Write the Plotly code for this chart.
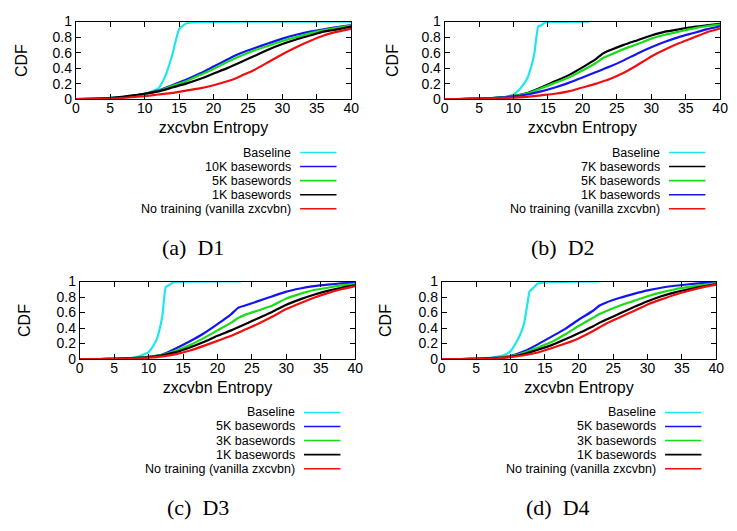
import plotly.graph_objects as go

W, H = 737, 531

# ---------------- data ----------------
X_GRID = [0, 2, 4, 6, 8, 10, 12, 14, 16, 18, 20, 22, 23, 24, 26, 28, 30, 32, 34, 36, 38, 40]

# (a) D1
A_BASE_X = [0, 4, 8, 10, 11, 12, 13, 14, 14.5, 15, 16, 17, 40]
A_BASE_Y = [0, 0.01, 0.04, 0.07, 0.1, 0.14, 0.3, 0.57, 0.75, 0.9, 0.975, 0.99, 1.0]
A_10K = [0, .003, .01, .02, .04, .07, .11, .18, .25, .33, .42, .51, .555, .595, .66, .72, .78, .83, .87, .90, .93, .955]
A_5K = [0, .003, .01, .02, .04, .07, .105, .17, .23, .31, .39, .48, .52, .56, .63, .69, .75, .80, .85, .89, .92, .95]
A_1K = [0, .003, .01, .025, .045, .07, .10, .15, .20, .26, .33, .40, .44, .48, .56, .64, .71, .77, .82, .87, .90, .935]
A_NONE = [0, .002, .006, .012, .025, .04, .06, .08, .11, .14, .18, .23, .26, .30, .38, .48, .58, .67, .75, .82, .87, .91]

# (b) D2
B_BASE_X = [0, 4, 8, 10, 11, 12, 12.5, 13, 13.6, 14, 14.5, 15, 21]
B_BASE_Y = [0, 0.005, 0.02, 0.06, 0.14, 0.27, 0.4, 0.58, 0.94, 0.95, 0.985, 0.995, 1.0]
B_7K = [0, .002, .006, .012, .02, .04, .08, .15, .23, .31, .41, .52, .59, .63, .70, .76, .82, .87, .90, .93, .95, .97]
B_5K = [0, .002, .006, .012, .02, .04, .075, .14, .21, .28, .37, .47, .53, .57, .645, .71, .78, .83, .87, .91, .94, .96]
B_1K = [0, .002, .005, .01, .02, .035, .06, .10, .15, .21, .28, .35, .385, .42, .50, .59, .67, .74, .80, .85, .90, .94]
B_NONE = [0, .001, .003, .007, .012, .02, .03, .05, .07, .10, .15, .20, .23, .26, .34, .44, .55, .64, .72, .79, .86, .91]

# (c) D3
C_BASE_X = [0, 6, 8, 9, 10, 11, 11.5, 12, 12.5, 13, 13.5, 14, 23.5]
C_BASE_Y = [0, 0.005, 0.02, 0.05, 0.09, 0.22, 0.35, 0.56, 0.93, 0.955, 0.985, 0.995, 1.0]
C_5K = [0, 0, .002, .006, .015, .03, .06, .14, .23, .33, .45, .58, .66, .69, .75, .81, .87, .91, .94, .96, .975, .985]
C_3K = [0, 0, .002, .006, .015, .03, .055, .11, .18, .27, .37, .47, .53, .57, .63, .69, .78, .84, .89, .92, .95, .97]
C_1K = [0, 0, .002, .005, .012, .025, .05, .09, .15, .22, .30, .37, .41, .45, .53, .61, .70, .77, .83, .88, .92, .95]
C_NONE = [0, 0, .001, .003, .008, .018, .035, .065, .11, .17, .235, .30, .34, .38, .46, .55, .645, .72, .79, .85, .90, .94]

# (d) D4
D_BASE_X = [0, 6, 8, 9, 10, 11, 11.5, 12, 12.5, 12.8, 13.5, 14, 23]
D_BASE_Y = [0, 0.005, 0.03, 0.05, 0.1, 0.24, 0.33, 0.46, 0.72, 0.87, 0.93, 0.975, 1.0]
D_5K = [0, 0, .002, .006, .018, .04, .10, .19, .29, .39, .51, .62, .69, .73, .79, .84, .885, .92, .945, .965, .978, .988]
D_3K = [0, 0, .002, .006, .016, .035, .08, .15, .22, .32, .43, .53, .58, .62, .69, .75, .81, .86, .90, .93, .955, .975]
D_1K = [0, 0, .002, .005, .013, .03, .065, .12, .18, .255, .335, .42, .47, .51, .59, .67, .745, .81, .86, .90, .935, .965]
D_NONE = [0, 0, .001, .004, .01, .025, .05, .085, .14, .20, .27, .36, .41, .46, .54, .62, .705, .77, .83, .88, .925, .96]

X_TICKS = [0, 5, 10, 15, 20, 25, 30, 35, 40]
Y_TICKS = [0, 0.2, 0.4, 0.6, 0.8, 1]
NONE_LABEL = "No training (vanilla zxcvbn)"
CAPTIONS = ["(a)\u2002D1", "(b)\u2002D2", "(c)\u2002D3", "(d)\u2002D4"]

# ---------------- styles ----------------
CYAN, BLUE, GREEN, BLACK, RED = "#1ee6ee", "#1414f0", "#19dc19", "#000000", "#ee1010"
FONT = "Liberation Sans, Arial, sans-serif"
LEG_STEP = 14.5

panels = [
    dict(series=[("Baseline", A_BASE_X, A_BASE_Y, CYAN),
                 ("10K basewords", X_GRID, A_10K, BLUE),
                 ("5K basewords", X_GRID, A_5K, GREEN),
                 ("1K basewords", X_GRID, A_1K, BLACK),
                 (NONE_LABEL, X_GRID, A_NONE, RED)],
         box=(73, 353, 14, 94), leg=(293, 149), cap=(192, 247), ytitle_x=18),
    dict(series=[("Baseline", B_BASE_X, B_BASE_Y, CYAN),
                 ("7K basewords", X_GRID, B_7K, BLACK),
                 ("5K basewords", X_GRID, B_5K, GREEN),
                 ("1K basewords", X_GRID, B_1K, BLUE),
                 (NONE_LABEL, X_GRID, B_NONE, RED)],
         box=(448, 728, 14, 94), leg=(668, 149), cap=(568, 247), ytitle_x=395),
    dict(series=[("Baseline", C_BASE_X, C_BASE_Y, CYAN),
                 ("5K basewords", X_GRID, C_5K, BLUE),
                 ("3K basewords", X_GRID, C_3K, GREEN),
                 ("1K basewords", X_GRID, C_1K, BLACK),
                 (NONE_LABEL, X_GRID, C_NONE, RED)],
         box=(77, 357, 282, 362), leg=(297, 417), cap=(197, 515), ytitle_x=21),
    dict(series=[("Baseline", D_BASE_X, D_BASE_Y, CYAN),
                 ("5K basewords", X_GRID, D_5K, BLUE),
                 ("3K basewords", X_GRID, D_3K, GREEN),
                 ("1K basewords", X_GRID, D_1K, BLACK),
                 (NONE_LABEL, X_GRID, D_NONE, RED)],
         box=(445, 724, 282, 362), leg=(664, 417), cap=(563, 515), ytitle_x=388),
]

fig = go.Figure()
annotations = []
shapes = []


def px(x):
    return x / W


def py(y):
    return 1 - y / H


for i, p in enumerate(panels):
    k = "" if i == 0 else str(i + 1)
    xa, ya = "x" + k, "y" + k
    for name, xs, ys, col in p["series"]:
        fig.add_trace(go.Scatter(x=xs, y=ys, mode="lines", name=name, xaxis=xa, yaxis=ya,
                                 line=dict(color=col, width=2.2, shape="spline", smoothing=0.5),
                                 showlegend=False))
    x0, x1, y0, y1 = p["box"]
    axis_common = dict(showline=True, linecolor="black", linewidth=1, mirror="ticks",
                       ticks="inside", ticklen=5, tickcolor="black", showgrid=False,
                       zeroline=False, tickfont=dict(family=FONT, size=14, color="black"))
    fig.layout["xaxis" + k] = dict(axis_common, domain=[px(x0), px(x1)], range=[0, 40],
                                   tickvals=X_TICKS, anchor=ya, ticklabelstandoff=-4,
                                   title=dict(text="zxcvbn Entropy", standoff=6,
                                              font=dict(family=FONT, size=16, color="black")))
    fig.layout["yaxis" + k] = dict(axis_common, domain=[py(y1), py(y0)], range=[0, 1],
                                   tickvals=Y_TICKS, anchor=xa)
    annotations.append(dict(text="CDF", textangle=-90, xref="paper", yref="paper",
                            x=px(p["ytitle_x"]), y=py((y0 + y1) / 2), showarrow=False,
                            xanchor="center", yanchor="middle",
                            font=dict(family=FONT, size=16, color="black")))
    # legend: right-aligned text followed by a line sample
    lx, ly = p["leg"]
    for j, (name, xs, ys, col) in enumerate(p["series"]):
        yy = ly + j * LEG_STEP
        annotations.append(dict(text=name, xref="paper", yref="paper", x=px(lx), y=py(yy),
                                xanchor="right", yanchor="middle", showarrow=False,
                                borderpad=0,
                                font=dict(family=FONT, size=12.5, color="black")))
        shapes.append(dict(type="line", xref="paper", yref="paper",
                           x0=px(lx + 8), x1=px(lx + 45), y0=py(yy), y1=py(yy),
                           line=dict(color=col, width=1.6)))
    cx, cy = p["cap"]
    annotations.append(dict(text=CAPTIONS[i], xref="paper", yref="paper", x=px(cx), y=py(cy),
                            xanchor="center", yanchor="middle", showarrow=False,
                            font=dict(family="Liberation Serif, Times New Roman, serif",
                                      size=22, color="black")))

fig.update_layout(width=W, height=H, margin=dict(l=0, r=0, t=0, b=0),
                  paper_bgcolor="white", plot_bgcolor="white",
                  annotations=annotations, shapes=shapes, showlegend=False)

fig.write_html("out.html")
